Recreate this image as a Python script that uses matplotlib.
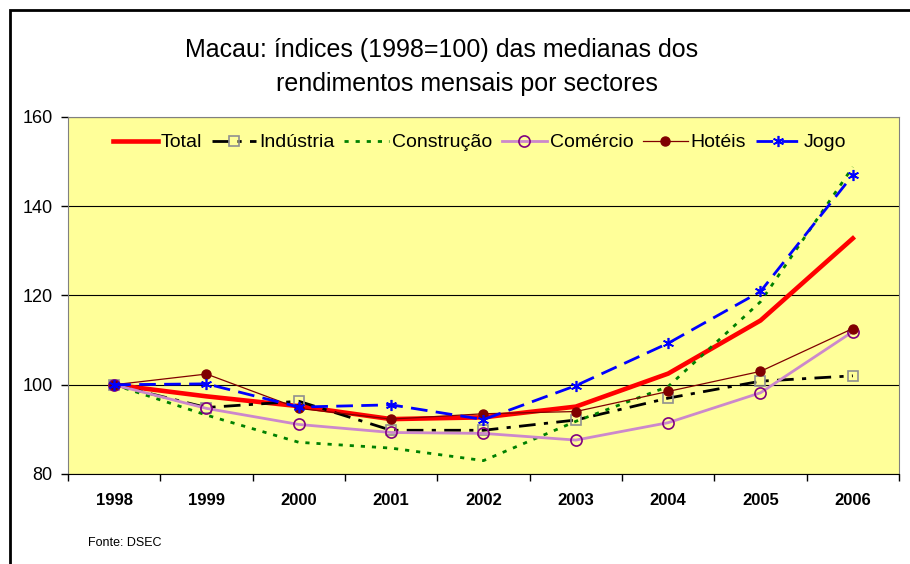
import matplotlib.pyplot as plt
from matplotlib.patches import Rectangle

plt.rcParams['font.family'] = ['Liberation Sans', 'DejaVu Sans']

# anos e índices (1998=100)
anos = ['1998', '1999', '2000', '2001', '2002', '2003', '2004', '2005', '2006']
total = [100, 97.4, 95.2, 92.3, 92.7, 95.1, 102.5, 114.4, 132.8]
industria = [100, 94.9, 96.3, 89.8, 89.8, 92.1, 97.0, 100.8, 102.0]
construcao = [100, 93.2, 87.1, 85.8, 83.0, 91.8, 99.6, 118.6, 148.8]
comercio = [100, 94.7, 91.1, 89.3, 89.1, 87.6, 91.5, 98.2, 111.9]
hoteis = [100, 102.4, 94.7, 92.3, 93.5, 94.0, 98.5, 103.0, 112.6]
jogo = [100, 100.2, 95.0, 95.5, 92.2, 99.8, 109.3, 120.9, 147.0]


def main():
    fig = plt.figure(figsize=(9.1, 5.64), dpi=100)
    ax = fig.add_axes([68 / 910, 90 / 564, 831 / 910, 357 / 564])
    ax.set_facecolor('#FFFF99')
    x = range(len(anos))

    ax.plot(x, total, color='#FF0000', lw=3.3, label='Total', zorder=3)
    ax.plot(x, industria, color='black', lw=2, dashes=(6, 3, 1.5, 3),
            marker='s', ms=7, mfc='none', mec='#909090', mew=1.2,
            label='Indústria', zorder=3)
    ax.plot(x, construcao, color='#008000', lw=2, dashes=(1.5, 2.5),
            label='Construção', zorder=3)
    ax.plot(x, comercio, color='#CC88CC', lw=2, marker='o', ms=8,
            mfc='none', mec='#800080', mew=1.2, label='Comércio', zorder=3)
    ax.plot(x, hoteis, color='#800000', lw=0.9, marker='o', ms=6.5,
            mfc='#800000', mec='#800000', label='Hotéis', zorder=3)
    ax.plot(x, jogo, color='#0000FF', lw=2, dashes=(6, 3), marker=(6, 2, 0),
            ms=8, mec='#0000FF', mew=1.2, label='Jogo', zorder=3)

    ax.set_xlim(-0.5, len(anos) - 0.5)
    ax.set_ylim(80, 160)
    ax.set_yticks([80, 100, 120, 140, 160])
    ax.yaxis.grid(True, color='black', lw=0.8)
    ax.set_axisbelow(True)

    ax.set_xticks(list(x))
    ax.set_xticklabels(anos, fontsize=12, fontweight='bold')
    ax.set_xticks([i - 0.5 for i in range(len(anos) + 1)], minor=True)
    ax.tick_params(axis='x', which='major', length=0, pad=14)
    ax.tick_params(axis='x', which='minor', length=5, direction='out', width=1)
    ax.tick_params(axis='y', labelsize=13, length=5, direction='out', width=1, pad=6)

    for s in ['left', 'top', 'right']:
        ax.spines[s].set_color('#808080')
    ax.spines['bottom'].set_color('black')

    ax.legend(loc='upper center', bbox_to_anchor=(0.495, 0.975), ncol=6,
              frameon=False, fontsize=14, handlelength=2.3, handletextpad=0.15,
              columnspacing=0.5, borderaxespad=0)

    # título em duas linhas, como no original
    fig.text(442 / 910, 1 - 50 / 564, 'Macau: índices (1998=100) das medianas dos',
             ha='center', va='center', fontsize=18)
    fig.text(467 / 910, 1 - 84 / 564, 'rendimentos mensais por sectores',
             ha='center', va='center', fontsize=18)
    fig.text(88 / 910, 1 - 543 / 564, 'Fonte: DSEC', fontsize=9, va='center')

    fig.patches.append(Rectangle((9.5 / 910, -0.02), 1.0, 1 - 10.5 / 564 + 0.02,
                                 transform=fig.transFigure, fill=False,
                                 edgecolor='black', lw=2, clip_on=False))

    fig.savefig('out.png', dpi=100)


if __name__ == "__main__":
    main()
